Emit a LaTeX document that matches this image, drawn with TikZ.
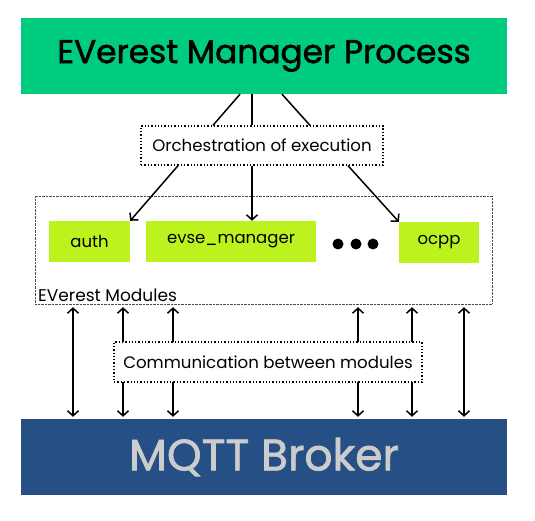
\documentclass[tikz,border=0pt]{standalone}
\usepackage{fontspec}
\setmainfont{Poppins}
\newfontfamily\headfont{Poppins}[FakeBold=1.6]
\usetikzlibrary{arrows.meta}
\definecolor{evgreen}{RGB}{0,204,128}
\definecolor{evlime}{RGB}{190,242,30}
\definecolor{evblue}{RGB}{38,79,134}
\definecolor{evgrey}{RGB}{204,204,204}
\tikzset{
	mgrbox/.style={fill=evgreen, minimum width=486, minimum height=76, inner sep=0},
	busbox/.style={fill=evblue, text=evgrey, minimum width=486, minimum height=76, inner sep=0},
	modbox/.style={fill=evlime, minimum height=41, inner sep=0, font=\fontsize{16.5}{19}\selectfont},
	notebox/.style={draw, dotted, line width=1.3, fill=white, minimum height=39, inner sep=0, font=\fontsize{16.6}{19}\selectfont},
	link/.style={line width=1.5},
	bus/.style={line width=1.5, <->, shorten <=3, shorten >=2},
}

\begin{document}
\begin{tikzpicture}[x=1pt, y=1pt, >={Straight Barb[length=5,width=11]}]
			%%%%% START %%%%%
			\useasboundingbox (0,0) rectangle (535,-521);
			
			\node[mgrbox, font=\headfont\fontsize{32.8}{38}\selectfont] (mgr) at (264,-56) {EVerest Manager Process};
			\node[notebox, minimum width=242] (orch) at (262,-145.5) {Orchestration of execution};
			
			\draw[link] ([xshift=-24]mgr.south) -- ([xshift=-49]orch.north);
			\draw[link] ([xshift=-12]mgr.south) -- ([xshift=-10]orch.north);
			\draw[link] ([xshift=18]mgr.south) -- ([xshift=48]orch.north);
			
			\node[draw=black!70, densely dotted, thin, minimum width=457, minimum height=108] (mods) at (263.5,-250) {};
			\node[anchor=base west, inner sep=0, font=\fontsize{17}{20}\selectfont] (modlabel) at (38,-301) {EVerest Modules};
			
			\node[modbox, minimum width=81] (auth) at (89.5,-241.5) {auth};
			\node[modbox, minimum width=170] (evse) at (231,-241.5) {evse\_manager};
			\node[modbox, minimum width=80] (ocpp) at (439,-242.5) {ocpp};
			\foreach \x [count=\i] in {338,356,373}
				\node[circle, fill=black, minimum size=11, inner sep=0] (dot\i) at (\x,-244) {};
			
			\draw[link, ->] ([xshift=-84]orch.south) -- (auth.north east);
			\draw[link, ->] ([xshift=-10]orch.south) -- ([xshift=21]evse.north);
			\draw[link, ->] ([xshift=86]orch.south) -- (ocpp.north west);
			
			\node[busbox, font=\headfont\fontsize{44}{52}\selectfont] (mqtt) at (264,-457) {MQTT Broker};
			
			% modules <-> broker
			\foreach \dx in {-190.5,-140.5,-90.5,94.5,148.5,200.5}
				\draw[bus] ([xshift=\dx]mods.south) -- ([xshift=\dx]mods.south |- mqtt.north);
			
			\node[notebox, minimum width=308, minimum height=40] (comm) at (268,-362) {Communication between modules};
			
			%%%%% END %%%%%
		\end{tikzpicture}
\end{document}
